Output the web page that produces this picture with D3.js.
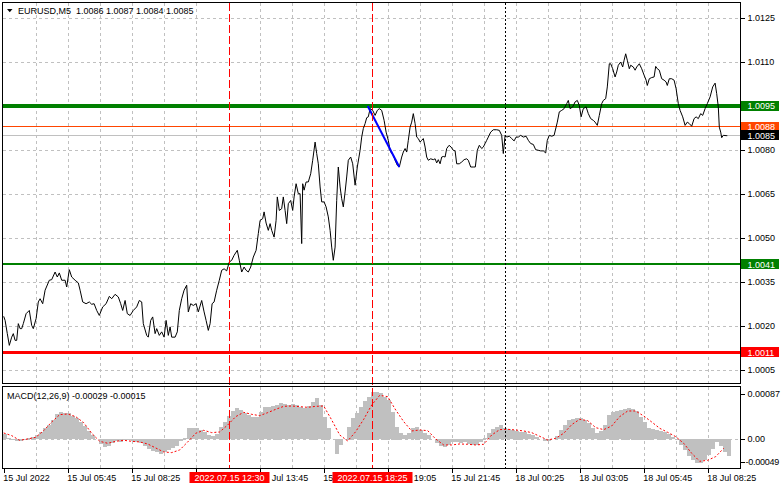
<!DOCTYPE html>
<html><head><meta charset="utf-8">
<script src="https://cdn.jsdelivr.net/npm/d3@7"></script>
<style>
body{margin:0;background:#fff}
svg{display:block}
text{font-family:"Liberation Sans",Arial,sans-serif;font-size:9px;fill:#000}
</style>
</head><body>
<svg id="c" width="781" height="489"></svg>
<script>
// ---------------- DATA ----------------
const symbolTitle = "EURUSD,M5  1.0086 1.0087 1.0084 1.0085";
const macdTitle = "MACD(12,26,9) -0.00029 -0.00015";

const priceTicks = [1.0005, 1.0020, 1.0035, 1.0050, 1.0065, 1.0080, 1.0095, 1.0110, 1.0125];
const macdTicks = [0.00087, 0, -0.00049];
const macdTickLabels = ["0.00087", "0.00", "-0.00049"];

// time axis: bar index (M5 bars) and label
const timeTicks = [0, 32, 64, 96, 128, 160, 192, 224, 256, 288, 320, 352];
const timeLabels = ["15 Jul 2022", "15 Jul 05:45", "15 Jul 08:25", "15 Jul 11:05", "15 Jul 13:45", "15 Jul 16:25",
  "15 Jul 19:05", "15 Jul 21:45", "18 Jul 00:25", "18 Jul 03:05", "18 Jul 05:45", "18 Jul 08:25"];

// close line: bar position and price
const closeT = [
  0,0.7,1.8,2.8,4.0,4.8,5.7,6.5,7.3,8.2,
  9.0,9.8,11.2,12.8,14.0,14.8,16.2,17.3,18.2,19.5,
  20.7,22.8,24.0,25.7,26.8,27.8,29.0,30.7,31.5,32.8,
  34.0,35.7,37.3,38.2,39.5,41.2,42.8,44.0,45.2,46.5,
  47.8,49.5,51.2,52.8,54.0,55.7,57.3,58.5,59.5,60.7,
  61.8,63.2,64.8,66.5,67.8,69.0,69.8,71.5,72.3,73.5,
  74.5,75.7,76.5,77.8,79.0,80.2,81.2,82.3,83.2,84.0,
  85.7,86.8,87.8,89.0,90.2,91.5,92.3,93.5,94.8,96.2,
  97.3,99.0,100.2,101.2,102.3,103.2,104.2,105.2,106.5,107.8,
  109.0,110.2,111.5,112.8,114.0,115.2,116.8,117.8,119.0,120.2,
  121.2,122.3,123.5,124.8,126.2,127.3,128.2,129.5,130.2,131.2,
  132.3,133.2,134.0,135.2,136.2,136.8,137.8,139.0,139.8,140.7,
  141.5,142.3,143.5,144.5,145.2,146.2,147.3,148.2,149.0,149.5,
  150.2,151.2,152.3,153.5,154.5,155.7,156.5,157.3,158.2,159.0,
  160.2,161.2,162.3,163.2,164.0,164.8,165.7,166.5,167.3,168.2,
  169.0,169.8,170.7,171.5,172.3,173.5,174.5,175.7,176.8,178.2,
  179.0,179.8,180.7,181.5,182.3,
  183.2,184.5,185.7,186.8,187.8,189.0,190.2,191.2,192.3,193.2,
  194.0,194.8,195.7,196.8,197.8,199.0,199.8,200.7,201.5,202.3,
  203.2,204.0,204.8,205.7,206.5,207.3,208.2,209.0,209.8,210.7,
  211.5,212.3,213.5,214.8,215.7,216.5,217.3,218.2,219.0,219.8,
  220.7,221.5,222.7,223.7,224.8,225.7,226.5,227.8,229.0,230.2,
  231.5,232.3,233.5,234.8,235.8,236.8,237.8,239.0,239.8,240.7,
  241.5,242.3,243.5,244.8,246.5,247.8,249.0,249.8,250.7,251.5,
  252.8,254.0,255.2,256.2,257.3,258.5,259.8,261.2,262.3,263.5,
  264.8,266.0,267.3,268.5,269.8,271.0,271.8,272.8,274.0,275.2,
  276.2,276.8,277.8,279.0,280.2,281.5,282.3,283.2,284.5,285.7,
  286.8,287.8,288.7,289.8,291.2,292.3,293.5,294.8,295.7,296.8,
  297.8,299.0,299.8,301.0,301.8,302.8,303.5,304.5,305.7,306.5,
  307.3,308.5,309.5,310.2,311.0,311.8,312.8,313.5,314.8,315.7,
  316.5,317.8,319.0,320.2,321.2,321.8,322.8,324.0,325.2,326.0,
  326.8,327.8,329.0,330.2,331.2,331.8,332.8,334.0,335.2,336.2,
  337.3,338.2,339.5,340.7,341.8,342.8,344.0,345.2,346.2,347.3,
  348.5,349.5,350.7,351.8,353.2,354.5,355.7,356.5,357.3,357.8,
  358.5,359.0,359.8,361.2,361.8
];
const closes = [
  1.00233,1.00219,1.00174,1.00134,1.00162,1.00174,1.00151,1.00151,1.00208,1.00191,
  1.00191,1.00208,1.00242,1.00253,1.00202,1.00191,1.00225,1.00282,1.00293,1.00276,
  1.00322,1.00356,1.00358,1.00384,1.00367,1.00381,1.00356,1.00356,1.00333,1.00392,
  1.00367,1.00356,1.00347,1.00322,1.00282,1.00276,1.00282,1.00274,1.00276,1.00253,
  1.00236,1.00265,1.00276,1.00301,1.00293,1.00308,1.00299,1.00276,1.00253,1.00287,
  1.00242,1.00236,1.00253,1.00265,1.00287,1.00282,1.00208,1.00168,1.00162,1.00219,
  1.00231,1.00174,1.00191,1.00168,1.00180,1.00162,1.00219,1.00168,1.00197,1.00162,
  1.00162,1.00180,1.00253,1.00293,1.00322,1.00339,1.00248,1.00276,1.00270,1.00276,
  1.00248,1.00287,1.00248,1.00219,1.00185,1.00208,1.00276,1.00282,1.00322,1.00356,
  1.00390,1.00395,1.00388,1.00418,1.00424,1.00441,1.00458,1.00424,1.00384,1.00401,
  1.00390,1.00384,1.00401,1.00435,1.00458,1.00515,1.00560,1.00566,1.00589,1.00551,
  1.00526,1.00549,1.00526,1.00503,1.00560,1.00640,1.00594,1.00600,1.00640,1.00594,
  1.00549,1.00617,1.00628,1.00594,1.00640,1.00685,1.00651,1.00651,1.00481,1.00685,
  1.00663,1.00691,1.00691,1.00719,1.00765,1.00827,1.00788,1.00753,1.00674,1.00623,
  1.00623,1.00606,1.00572,1.00526,1.00469,1.00424,1.00469,1.00628,1.00742,1.00674,
  1.00634,1.00606,1.00657,1.00708,1.00765,1.00776,1.00753,1.00680,1.00742,1.00799,
  1.00844,1.00873,1.00890,1.00910,1.00913,
  1.00941,1.00935,1.00918,1.00935,1.00941,1.00935,1.00901,1.00861,1.00833,1.00799,
  1.00788,1.00782,1.00765,1.00748,1.00742,1.00776,1.00793,1.00805,1.00793,1.00833,
  1.00878,1.00895,1.00924,1.00890,1.00844,1.00839,1.00827,1.00833,1.00839,1.00810,
  1.00776,1.00765,1.00770,1.00767,1.00770,1.00756,1.00767,1.00753,1.00776,1.00778,
  1.00776,1.00805,1.00816,1.00810,1.00799,1.00797,1.00753,1.00753,1.00759,1.00767,
  1.00770,1.00765,1.00742,1.00742,1.00742,1.00799,1.00816,1.00805,1.00810,1.00822,
  1.00833,1.00844,1.00861,1.00869,1.00869,1.00867,1.00850,1.00788,1.00850,1.00844,
  1.00847,1.00839,1.00831,1.00844,1.00844,1.00850,1.00844,1.00847,1.00833,1.00822,
  1.00819,1.00801,1.00799,1.00797,1.00797,1.00790,1.00833,1.00850,1.00847,1.00850,
  1.00878,1.00895,1.00930,1.00935,1.00941,1.00958,1.00969,1.00941,1.00947,1.00964,
  1.00969,1.00952,1.00913,1.00941,1.00947,1.00924,1.00907,1.00901,1.00895,1.00884,
  1.00918,1.00958,1.00969,1.00975,1.01015,1.01094,1.01094,1.01077,1.01049,1.01066,
  1.01089,1.01100,1.01083,1.01106,1.01128,1.01106,1.01077,1.01089,1.01083,1.01072,
  1.01083,1.01094,1.01077,1.01055,1.01038,1.01020,1.01043,1.01047,1.01049,1.01085,
  1.01077,1.01072,1.01043,1.01038,1.01032,1.01020,1.01043,1.01043,1.01038,1.01009,
  1.00958,1.00935,1.00913,1.00884,1.00895,1.00890,1.00881,1.00907,1.00913,1.00907,
  1.00924,1.00918,1.00941,1.00958,1.00981,1.01015,1.01028,1.00992,1.00947,1.00878,
  1.00861,1.00842,1.00850,1.00849,1.00849
];

// horizontal level lines (prices)
const levelPrices = [1.0085, 1.0088, 1.0095, 1.0041, 1.0011];
const levelLabels = ["1.0085", "1.0088", "1.0095", "1.0041", "1.0011"];

// trend line (bar, price)
const trendT = [182, 197.8];
const trendP = [1.0095, 1.00742];

// vertical event markers (bar) and their labels
const markerT = [112.8, 184];
const markerLabels = ["2022.07.15 12:30", "2022.07.15 18:25"];
const separatorT = [250.8];

// MACD histogram every 2 bars from bar 0
const histT0 = 0, histStep = 2;
const macdHist = [
  9.6e-5,1.8e-5,-2.4e-5,-3.6e-5,-3.6e-5,-2.4e-5,1.8e-5,4.8e-5,7.2e-5,12.6e-5,
  19.8e-5,25.8e-5,34.8e-5,45.6e-5,49.2e-5,48e-5,46.8e-5,42e-5,37.8e-5,31.8e-5,
  24e-5,15.6e-5,7.8e-5,0,-8.4e-5,-15e-5,-12e-5,-7.2e-5,-4.2e-5,-4.8e-5,
  -2.4e-5,-1.2e-5,-3.6e-5,-4.8e-5,-7.2e-5,-13.2e-5,-18e-5,-21.6e-5,-24e-5,-26.4e-5,
  -24e-5,-20.4e-5,-16.2e-5,-12e-5,-4.2e-5,1.8e-5,19.8e-5,19.8e-5,19.8e-5,16.8e-5,
  13.2e-5,7.8e-5,6e-5,9.6e-5,22.8e-5,31.8e-5,42e-5,51.6e-5,55.8e-5,52.8e-5,
  48e-5,43.8e-5,40.8e-5,39.6e-5,49.8e-5,57.6e-5,58.8e-5,60e-5,62.4e-5,64.8e-5,
  63.6e-5,61.8e-5,63.6e-5,61.8e-5,57.6e-5,55.8e-5,60e-5,67.8e-5,73.8e-5,61.8e-5,
  40.8e-5,19.8e-5,0,-26.4e-5,-10.2e-5,0,22.8e-5,37.8e-5,46.8e-5,58.8e-5,
  69.6e-5,76.8e-5,85.8e-5,85.8e-5,82.8e-5,76.8e-5,70.8e-5,49.8e-5,22.8e-5,10.8e-5,
  7.8e-5,10.8e-5,19.8e-5,22.8e-5,16.8e-5,12e-5,7.8e-5,0,-7.2e-5,-12e-5,
  -14.4e-5,-10.2e-5,-6e-5,-6e-5,-7.2e-5,-6e-5,-8.4e-5,-10.8e-5,-10.2e-5,-6e-5,
  1.8e-5,10.8e-5,19.2e-5,22.8e-5,25.2e-5,19.8e-5,18e-5,16.8e-5,15.6e-5,13.8e-5,
  12.6e-5,9.6e-5,7.2e-5,3.6e-5,0,-3.6e-5,-4.2e-5,0,6e-5,16.8e-5,
  25.8e-5,34.8e-5,36.6e-5,37.8e-5,37.8e-5,34.8e-5,28.8e-5,19.8e-5,10.8e-5,15.6e-5,
  25.8e-5,43.8e-5,49.8e-5,51.6e-5,52.8e-5,55.2e-5,55.8e-5,55.2e-5,51.6e-5,40.8e-5,
  31.8e-5,21e-5,18e-5,16.8e-5,15.6e-5,13.2e-5,9e-5,3.6e-5,-2.4e-5,-10.2e-5,
  -20.4e-5,-31.2e-5,-37.2e-5,-43.2e-5,-43.2e-5,-38.4e-5,-28.2e-5,-18e-5,-6e-5,-13.2e-5,
  -24e-5,-30e-5
];

// MACD signal every 4 bars from bar 0
const sigT0 = 0, sigStep = 4;
const macdSignal = [
  11.4e-5,6.6e-5,-1.8e-5,0.6e-5,3.6e-5,15.6e-5,31.2e-5,44.4e-5,45.6e-5,40.8e-5,
  30e-5,10.8e-5,-3.6e-5,-7.2e-5,-3.6e-5,-1.8e-5,-3.6e-5,-4.8e-5,-8.4e-5,-15.6e-5,
  -22.8e-5,-24e-5,-19.2e-5,-4.8e-5,10.8e-5,16.2e-5,12e-5,13.2e-5,25.8e-5,40.8e-5,
  48.6e-5,45e-5,42.6e-5,48e-5,54e-5,59.4e-5,60e-5,58.8e-5,57.6e-5,59.4e-5,
  60e-5,34.8e-5,7.8e-5,-3e-5,13.8e-5,36e-5,61.8e-5,79.2e-5,76.8e-5,52.8e-5,
  31.8e-5,15e-5,16.8e-5,15.6e-5,0.6e-5,-10.2e-5,-10.2e-5,-8.4e-5,-9e-5,-10.2e-5,
  -9e-5,7.8e-5,17.4e-5,18e-5,16.8e-5,15e-5,12e-5,5.4e-5,-1.2e-5,1.8e-5,
  10.8e-5,26.4e-5,36e-5,33.6e-5,21e-5,17.4e-5,24e-5,40.8e-5,51e-5,51e-5,
  42e-5,31.2e-5,19.8e-5,12.6e-5,4.8e-5,-7.2e-5,-25.2e-5,-39.6e-5,-37.8e-5,-31.2e-5,
  -16.2e-5
];

// ---------------- DRAW ----------------
const svg = d3.select("#c");
const PL = 2.5, PR = 740.5, MT = 2.5, MB = 383.5, ST = 386.5, SB = 468.5;

const x = d3.scaleLinear().domain([0, 368]).range([3.7, 739.7]);
const y = d3.scaleLinear().domain([1.0005, 1.0125]).range([370, 18]);
const ym = d3.scaleLinear().domain([-0.00049, 0.00087]).range([466.5, 391]);
const px = v => Math.round(x(v)) + 0.5;

svg.append("rect").attr("width", 781).attr("height", 489).attr("fill", "#fff");

const defs = svg.append("defs");
defs.append("clipPath").attr("id", "cm").append("rect").attr("x", PL + 0.5).attr("y", MT + 0.5).attr("width", PR - PL - 1).attr("height", MB - MT - 1);
defs.append("clipPath").attr("id", "cs").append("rect").attr("x", PL + 0.5).attr("y", ST + 0.5).attr("width", PR - PL - 1).attr("height", SB - ST - 1);

const gridCol = "#c0c0c0";
// vertical grid every 16 bars, skipped where an event marker sits on it
const gridT = d3.range(16, 368, 16).filter(t => markerT.every(m => Math.abs(x(m) - x(t)) > 2.5));
const g = svg.append("g").attr("shape-rendering", "crispEdges");
[[MT, MB], [ST, SB]].forEach(([a, b]) => {
  g.selectAll(null).data(gridT).enter().append("line")
    .attr("x1", px).attr("x2", px)
    .attr("y1", a).attr("y2", b)
    .attr("stroke", gridCol).attr("stroke-dasharray", "3,3");
});
g.selectAll(null).data(priceTicks).enter().append("line")
  .attr("x1", PL).attr("x2", PR)
  .attr("y1", d => Math.round(y(d)) + 0.5).attr("y2", d => Math.round(y(d)) + 0.5)
  .attr("stroke", gridCol).attr("stroke-dasharray", "3,3");
g.append("line").attr("x1", PL).attr("x2", PR)
  .attr("y1", Math.round(ym(0)) + 0.5).attr("y2", Math.round(ym(0)) + 0.5)
  .attr("stroke", gridCol).attr("stroke-dasharray", "3,3");

// MACD histogram + signal
const sg = svg.append("g").attr("clip-path", "url(#cs)");
sg.append("g").attr("shape-rendering", "crispEdges").selectAll("rect")
  .data(macdHist).enter().append("rect")
  .attr("x", (d, i) => Math.round(x(histT0 + i * histStep)) - 1)
  .attr("width", 4)
  .attr("y", d => Math.round(Math.min(ym(d), ym(0))))
  .attr("height", d => Math.round(Math.abs(ym(d) - ym(0))))
  .attr("fill", "#c0c0c0");
sg.append("path")
  .datum(macdSignal)
  .attr("d", d3.line().x((d, i) => x(sigT0 + i * sigStep)).y(d => ym(d)))
  .attr("fill", "none").attr("stroke", "#ff0000").attr("stroke-width", 1)
  .attr("stroke-dasharray", "2,2");

// level lines
const levelColor = ["#c0c0c0", "#ff4500", "#008000", "#008000", "#ff0000"];
const levelWidth = [1, 1, 4, 2, 3];
const levelBox = ["#000000", "#ff4500", "#008000", "#008000", "#ff0000"];
const mg = svg.append("g").attr("clip-path", "url(#cm)");
mg.selectAll("line.lv").data(levelPrices).enter().append("line")
  .attr("shape-rendering", "crispEdges")
  .attr("x1", PL).attr("x2", PR)
  .attr("y1", d => y(d)).attr("y2", d => y(d))
  .attr("stroke", (d, i) => levelColor[i]).attr("stroke-width", (d, i) => levelWidth[i]);

// day separator
svg.append("g").attr("shape-rendering", "crispEdges").selectAll("line").data(separatorT).enter().append("line")
  .attr("x1", px).attr("x2", px)
  .attr("y1", MT).attr("y2", SB)
  .attr("stroke", "#000").attr("stroke-dasharray", "2,2");

// price line
mg.append("path")
  .datum(closes)
  .attr("d", d3.line().x((d, i) => x(closeT[i])).y(d => y(d)))
  .attr("fill", "none").attr("stroke", "#000").attr("stroke-width", 1);

// trend line
mg.append("path")
  .datum(trendP)
  .attr("d", d3.line().x((d, i) => x(trendT[i])).y(d => y(d)))
  .attr("fill", "none").attr("stroke", "#0000ff").attr("stroke-width", 2);

// event markers
svg.append("g").attr("shape-rendering", "crispEdges").selectAll("line").data(markerT).enter().append("line")
  .attr("x1", px).attr("x2", px)
  .attr("y1", MT).attr("y2", SB)
  .style("stroke", "#ff0000").attr("stroke-dasharray", "8,3");

// borders
const bg = svg.append("g").attr("shape-rendering", "crispEdges").attr("fill", "none").attr("stroke", "#000");
bg.append("rect").attr("x", PL).attr("y", MT).attr("width", PR - PL).attr("height", MB - MT);
bg.append("rect").attr("x", PL).attr("y", ST).attr("width", PR - PL).attr("height", SB - ST);

// price axis
const ay = svg.append("g").attr("transform", `translate(${PR},0)`)
  .call(d3.axisRight(y).tickValues(priceTicks).tickSize(4).tickPadding(3).tickFormat(d3.format(".4f")));
ay.select(".domain").remove();
ay.selectAll("line").attr("stroke", "#000").attr("shape-rendering", "crispEdges");
ay.selectAll("text").attr("font-size", null).attr("font-family", null).attr("fill", "#000");

// MACD axis
const macdLabelY = v => Math.max(394, Math.min(461.5, ym(v)));
const am = svg.append("g");
am.selectAll("line").data(macdTicks).enter().append("line")
  .attr("shape-rendering", "crispEdges")
  .attr("x1", PR).attr("x2", PR + 4)
  .attr("y1", d => Math.round(macdLabelY(d)) + 0.5).attr("y2", d => Math.round(macdLabelY(d)) + 0.5)
  .attr("stroke", "#000");
am.selectAll("text").data(macdTicks).enter().append("text")
  .attr("x", d => d < 0 ? PR + 5 : PR + 7).attr("y", d => macdLabelY(d) + 3)
  .attr("letter-spacing", d => d < 0 ? -0.25 : 0)
  .text((d, i) => macdTickLabels[i]);

// level label boxes
const lb = svg.append("g");
function drawBox(p, i) {
  const yy = y(p);
  lb.append("rect").attr("x", PR + 0.5).attr("y", Math.round(yy - 5)).attr("width", 38).attr("height", 10)
    .attr("fill", levelBox[i]);
  lb.append("text").attr("x", PR + 7).attr("y", yy + 3.3).style("fill", "#fff").text(levelLabels[i]);
}
levelPrices.forEach((p, i) => { if (i > 0) drawBox(p, i); });
drawBox(levelPrices[0], 0);

// time axis ticks
const ax = svg.append("g").attr("transform", `translate(0,${SB})`)
  .call(d3.axisBottom(x).tickValues(timeTicks).tickSize(4).tickFormat(""));
ax.select(".domain").remove();
ax.selectAll("line").attr("stroke", "#000").attr("shape-rendering", "crispEdges")
  .attr("transform", "translate(0.3,0)");
ax.selectAll("text").remove();

// marker boxes on the time axis (they hide the parts of the tick labels beneath them)
const boxes = markerT.map(t => [px(t) - 40, px(t) + 40]);
const tg = svg.append("g");
timeTicks.forEach((t, i) => {
  const label = timeLabels[i];
  const x0 = px(t) - 1.3;
  const tmp = tg.append("text").attr("x", x0).attr("y", 480.8).text(label);
  const node = tmp.node();
  let idx = 0;
  const parts = label.split(" ").map(w => {
    const s = label.indexOf(w, idx); idx = s + w.length;
    const a = x0 + (s ? node.getSubStringLength(0, s) : 0);
    const b = x0 + node.getSubStringLength(0, s + w.length);
    const covered = boxes.some(([b0, b1]) => Math.min(b, b1) - Math.max(a, b0) > (b - a) / 2);
    return { s, e: s + w.length, a, covered };
  });
  tmp.remove();
  let run = null;
  parts.concat([{ covered: true }]).forEach(p => {
    if (!p.covered) {
      if (!run) run = { s: p.s, a: p.a };
      run.e = p.e;
    } else if (run) {
      tg.append("text").attr("x", run.a).attr("y", 480.8).text(label.slice(run.s, run.e));
      run = null;
    }
  });
});
markerT.forEach((t, i) => {
  const xx = px(t);
  svg.append("rect").attr("x", xx - 40).attr("y", 472).attr("width", 80).attr("height", 11).attr("fill", "#ff0000");
  svg.append("text").attr("x", xx).attr("y", 480.8).attr("text-anchor", "middle").style("fill", "#fff").text(markerLabels[i]);
});

// titles
svg.append("path").attr("d", "M7,9 L12.5,9 L9.75,12.3 Z").attr("fill", "#000");
svg.append("text").attr("x", 18).attr("y", 14).style("white-space", "pre").text(symbolTitle);
svg.append("text").attr("x", 7).attr("y", 398.5).text(macdTitle);
</script>
</body></html>
